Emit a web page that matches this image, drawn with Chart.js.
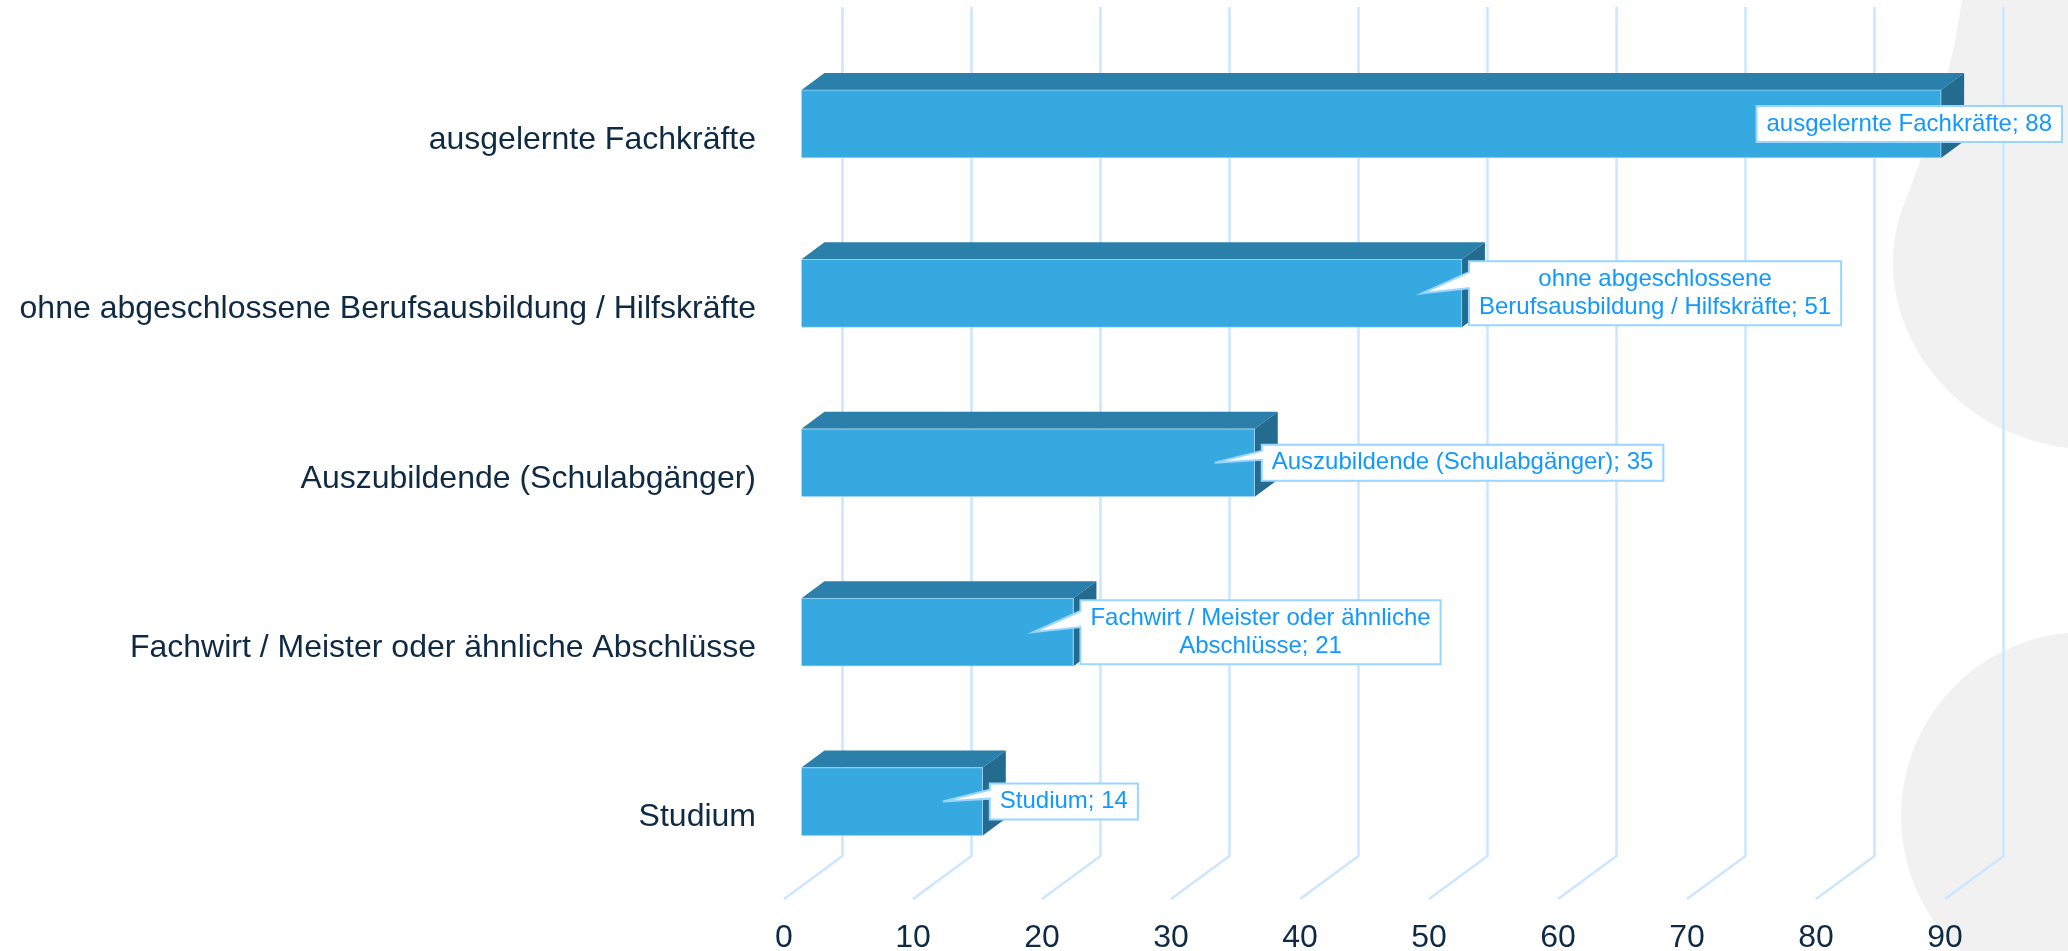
<!DOCTYPE html>
<html>
<head>
<meta charset="utf-8">
<title>Chart</title>
<script src="https://cdn.jsdelivr.net/npm/chart.js@4"></script>
<style>
    body { margin: 0; background: #fff; overflow: hidden; }
    #wrap { position: relative; width: 2068px; height: 951px; }
    #bg, #chart { position: absolute; left: 0; top: 0; }
</style>
</head>
<body>
<div id="wrap">
    <svg id="bg" width="2068" height="951">
        <path d="M1962 0 C1958 25 1955 45 1950 63 C1942 100 1920 165 1903 207 C1896 225 1893 245 1893 263 C1893 330 1935 395 2000 428 C2022 438 2045 445 2068 448 L2068 0 Z" fill="#f1f1f1"/>
        <circle cx="2085" cy="816" r="184" fill="#f1f1f1"/>
    </svg>
    <canvas id="chart" width="2068" height="951"></canvas>
</div>
<script>
const categories = [
    "ausgelernte Fachkräfte",
    "ohne abgeschlossene Berufsausbildung / Hilfskräfte",
    "Auszubildende (Schulabgänger)",
    "Fachwirt / Meister oder ähnliche Abschlüsse",
    "Studium"
];
const values = [88, 51, 35, 21, 14];
const tickLabels = [0, 10, 20, 30, 40, 50, 60, 70, 80, 90];
const calloutLines = [
    ["ausgelernte Fachkräfte; 88"],
    ["ohne abgeschlossene", "Berufsausbildung / Hilfskräfte; 51"],
    ["Auszubildende (Schulabgänger); 35"],
    ["Fachwirt / Meister oder ähnliche", "Abschlüsse; 21"],
    ["Studium; 14"]
];

const FONT = '"Liberation Sans", Arial, sans-serif';
const GRID_COLOR = "#cce6ff";

// grid walls sit behind the axis by this much
const wallDx = 58.5, wallDy = 43;
const wallTop = 7, wallBottom = 856;
// depth of the bars
const barDx = 23, barDy = 17;

const wallsAndDepth = {
    id: "wallsAndDepth",
    beforeDatasetsDraw(chart) {
        let ctx = chart.ctx;
        let x = chart.scales.x;
        ctx.save();
        ctx.strokeStyle = GRID_COLOR;
        ctx.lineWidth = 2.5;
        ctx.lineJoin = "round";
        tickLabels.forEach(t => {
            let px = x.getPixelForValue(t);
            ctx.beginPath();
            ctx.moveTo(px + wallDx, wallTop);
            ctx.lineTo(px + wallDx, wallBottom);
            ctx.lineTo(px, wallBottom + wallDy);
            ctx.stroke();
        });
        chart.getDatasetMeta(0).data.forEach(bar => {
            let top = bar.y - bar.height / 2;
            let bot = bar.y + bar.height / 2;
            ctx.fillStyle = "#2a7fab";
            ctx.beginPath();
            ctx.moveTo(bar.base, top);
            ctx.lineTo(bar.base + barDx, top - barDy);
            ctx.lineTo(bar.x + barDx, top - barDy);
            ctx.lineTo(bar.x, top);
            ctx.closePath();
            ctx.fill();
            ctx.fillStyle = "#236c8f";
            ctx.beginPath();
            ctx.moveTo(bar.x, top);
            ctx.lineTo(bar.x + barDx, top - barDy);
            ctx.lineTo(bar.x + barDx, bot - barDy);
            ctx.lineTo(bar.x, bot);
            ctx.closePath();
            ctx.fill();
        });
        ctx.restore();
    }
};

const callouts = {
    id: "callouts",
    afterDatasetsDraw(chart) {
        let ctx = chart.ctx;
        let lineH = 28, padX = 10, padY = 4;
        ctx.save();
        ctx.font = "24px " + FONT;
        ctx.textAlign = "center";
        ctx.textBaseline = "middle";
        chart.getDatasetMeta(0).data.forEach((bar, i) => {
            let lines = calloutLines[i];
            let w = Math.max(...lines.map(l => ctx.measureText(l).width)) + padX * 2;
            let h = lines.length * lineH + padY * 2;
            // the box stays on the page, the longest bar pushes it back over itself
            let left = Math.min(bar.x + 7, 2062 - w);
            let top = bar.y - h / 2;
            let tipX = bar.x - 40;

            ctx.beginPath();
            ctx.moveTo(left, top);
            ctx.lineTo(left + w, top);
            ctx.lineTo(left + w, top + h);
            ctx.lineTo(left, top + h);
            ctx.lineTo(left, top + h * 0.42);
            if (tipX < left) ctx.lineTo(tipX, bar.y);
            ctx.lineTo(left, top + h * 0.17);
            ctx.closePath();
            ctx.fillStyle = "#ffffff";
            ctx.fill();
            ctx.strokeStyle = "#99d5ff";
            ctx.lineWidth = 2;
            ctx.stroke();

            ctx.fillStyle = "#1299ff";
            lines.forEach((l, n) => {
                ctx.fillText(l, left + w / 2, top + padY + lineH * (n + 0.5));
            });
        });
        ctx.restore();
    }
};

new Chart(document.getElementById("chart"), {
    type: "bar",
    data: {
        labels: categories,
        datasets: [{
            data: values,
            xAxisID: "xBar",
            backgroundColor: "#36a9e1",
            borderColor: "#9fd3f2",
            borderWidth: 1,
            barThickness: 68
        }]
    },
    options: {
        indexAxis: "y",
        responsive: false,
        animation: false,
        layout: { padding: { top: 33.75, right: 58.5 } },
        plugins: { legend: { display: false }, tooltip: { enabled: false } },
        scales: {
            x: {
                type: "linear",
                position: "bottom",
                min: 0,
                max: 95,
                grid: { display: false },
                border: { display: false },
                afterFit: s => { s.height = 64.75; },
                ticks: {
                    stepSize: 10,
                    includeBounds: false,
                    padding: 25,
                    maxRotation: 0,
                    color: "#0f2a43",
                    font: { family: FONT, size: 32 }
                }
            },
            // the bars start a little right of the axis labels
            xBar: {
                type: "linear",
                axis: "x",
                display: false,
                min: -1.35,
                max: 93.28
            },
            y: {
                grid: { display: false },
                border: { display: false },
                afterFit: s => { s.width = 784; },
                ticks: {
                    padding: 20,
                    labelOffset: 16,
                    color: "#0f2a43",
                    font: { family: FONT, size: 32 }
                }
            }
        }
    },
    plugins: [wallsAndDepth, callouts]
});
</script>
</body>
</html>
